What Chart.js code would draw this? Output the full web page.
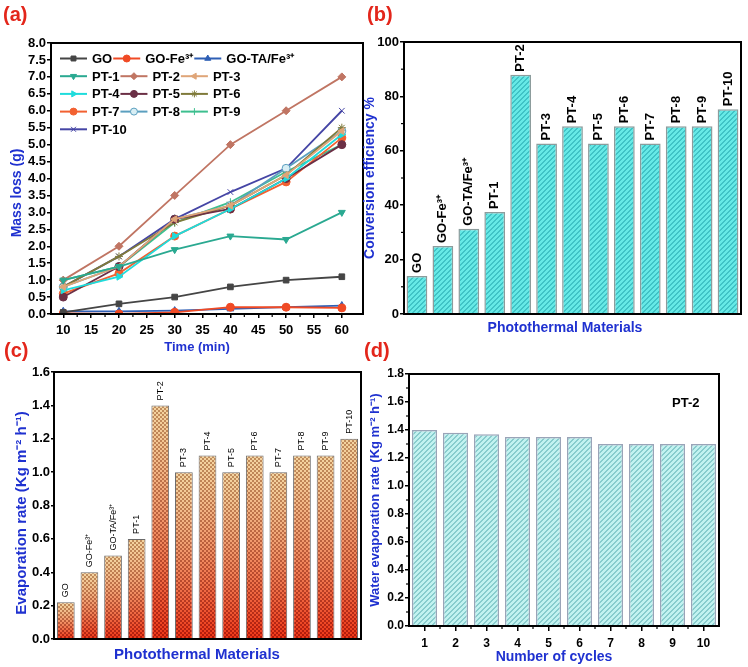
<!DOCTYPE html>
<html>
<head>
<meta charset="utf-8">
<script src="https://cdn.jsdelivr.net/npm/chart.js@4.4.1/dist/chart.umd.min.js"></script>
<style>
  body { margin: 0; background: #fff; width: 748px; height: 667px; position: relative; overflow: hidden; font-family: "Liberation Sans", Arial, sans-serif; }
  canvas { position: absolute; }
  .panel { position: absolute; color: #e3261b; font: bold 20px "Liberation Sans", Arial, sans-serif; line-height: 1; }
  .note { position: absolute; color: #000; font: bold 13px "Liberation Sans", Arial, sans-serif; line-height: 1; }
</style>
</head>
<body>
<canvas id="cA" width="374" height="360" style="left:0;top:0"></canvas>
<canvas id="cB" width="388" height="345" style="left:360px;top:0"></canvas>
<canvas id="cC" width="374" height="337" style="left:0;top:330px"></canvas>
<canvas id="cD" width="386" height="337" style="left:362px;top:330px"></canvas>
<div class="panel" style="left:3px;top:4px">(a)</div>
<div class="panel" style="left:367px;top:4px">(b)</div>
<div class="panel" style="left:4px;top:340px">(c)</div>
<div class="panel" style="left:364px;top:340px">(d)</div>
<div class="note" style="left:672px;top:396px">PT-2</div>
<script>
// ---- data ----
const times = [10, 20, 30, 40, 50, 60];
const timeTicks = [10, 15, 20, 25, 30, 35, 40, 45, 50, 55, 60];
const seriesNames = ['GO', 'GO-Fe³⁺', 'GO-TA/Fe³⁺', 'PT-1', 'PT-2', 'PT-3', 'PT-4', 'PT-5', 'PT-6', 'PT-7', 'PT-8', 'PT-9', 'PT-10'];
const lossGO     = [0.05, 0.30, 0.50, 0.80, 1.00, 1.10];
const lossGOFe   = [0.02, 0.00, 0.05, 0.20, 0.20, 0.18];
const lossGOTAFe = [0.08, 0.08, 0.10, 0.15, 0.20, 0.25];
const lossPT1  = [1.00, 1.40, 1.90, 2.30, 2.20, 3.00];
const lossPT2  = [1.00, 2.00, 3.50, 5.00, 6.00, 7.00];
const lossPT3  = [0.80, 1.40, 2.80, 3.20, 4.10, 5.40];
const lossPT4  = [0.70, 1.10, 2.30, 3.10, 4.00, 5.30];
const lossPT5  = [0.50, 1.40, 2.80, 3.10, 4.00, 5.00];
const lossPT6  = [0.80, 1.70, 2.70, 3.20, 4.10, 5.50];
const lossPT7  = [0.60, 1.20, 2.30, 3.10, 3.90, 5.20];
const lossPT8  = [0.80, 1.40, 2.80, 3.20, 4.30, 5.40];
const lossPT9  = [1.00, 1.40, 2.70, 3.30, 4.20, 5.00];
const lossPT10 = [0.80, 1.70, 2.80, 3.60, 4.30, 6.00];

const materials = ['GO', 'GO-Fe³⁺', 'GO-TA/Fe³⁺', 'PT-1', 'PT-2', 'PT-3', 'PT-4', 'PT-5', 'PT-6', 'PT-7', 'PT-8', 'PT-9', 'PT-10'];
const conversion = [14, 25, 31.3, 37.5, 88, 62.7, 69, 62.7, 69, 62.7, 69, 69, 75.3];
const evapRate = [0.22, 0.40, 0.50, 0.60, 1.40, 1.00, 1.10, 1.00, 1.10, 1.00, 1.10, 1.10, 1.20];
const cycles = ['1', '2', '3', '4', '5', '6', '7', '8', '9', '10'];
const cycleRate = [1.40, 1.38, 1.37, 1.35, 1.35, 1.35, 1.30, 1.30, 1.30, 1.30];

const lossSeries = [lossGO, lossGOFe, lossGOTAFe, lossPT1, lossPT2, lossPT3, lossPT4, lossPT5, lossPT6, lossPT7, lossPT8, lossPT9, lossPT10];
// marker / colour per series
const lossStyles = [
  { color: '#454545', point: 'rect', rot: 0 },
  { color: '#f04a25', point: 'circle', rot: 0 },
  { color: '#2e5fb5', point: 'triangle', rot: 0 },
  { color: '#2aa991', point: 'triangle', rot: 180 },
  { color: '#c07563', point: 'rectRot', rot: 0 },
  { color: '#dfa578', point: 'triangle', rot: 270 },
  { color: '#1fdcdc', point: 'triangle', rot: 90 },
  { color: '#6b2f45', point: 'circle', rot: 0 },
  { color: '#7f7a3a', point: 'star', rot: 0 },
  { color: '#f26131', point: 'circle', rot: 0 },
  { color: '#5b9fbf', point: 'circle', rot: 0, fill: '#d8eef4' },
  { color: '#3dbf8f', point: 'cross', rot: 0 },
  { color: '#4545a5', point: 'crossRot', rot: 0 }
];

const BLUE = '#1f31d0';
const FONT = '"Liberation Sans", Arial, sans-serif';
Chart.defaults.font.family = FONT;
Chart.defaults.color = '#000';

// ---- plugins ----
const frame = {
  id: 'frame',
  afterDraw(chart) {
    const a = chart.chartArea, ctx = chart.ctx;
    ctx.save();
    ctx.strokeStyle = '#000';
    ctx.lineWidth = 2;
    ctx.strokeRect(a.left, a.top, a.right - a.left, a.bottom - a.top);
    ctx.restore();
  }
};

const minorTicks = {
  id: 'minorTicks',
  afterDraw(chart, args, opts) {
    const ctx = chart.ctx;
    ctx.save();
    ctx.strokeStyle = '#000';
    ctx.lineWidth = 1.2;
    (opts.axes || []).forEach(id => {
      const s = chart.scales[id];
      for (let i = 0; i < s.ticks.length - 1; i++) {
        const p = (s.getPixelForTick(i) + s.getPixelForTick(i + 1)) / 2;
        ctx.beginPath();
        if (s.isHorizontal()) { ctx.moveTo(p, s.top); ctx.lineTo(p, s.top + 3); }
        else { ctx.moveTo(s.right, p); ctx.lineTo(s.right - 3, p); }
        ctx.stroke();
      }
    });
    ctx.restore();
  }
};

const axisTitles = {
  id: 'axisTitles',
  afterDraw(chart, args, opts) {
    const ctx = chart.ctx;
    ctx.save();
    ctx.fillStyle = BLUE;
    ctx.textAlign = 'center';
    ctx.textBaseline = 'middle';
    ctx.font = opts.xFont;
    ctx.fillText(opts.xText, opts.xPos[0], opts.xPos[1]);
    ctx.translate(opts.yPos[0], opts.yPos[1]);
    ctx.rotate(-Math.PI / 2);
    ctx.font = opts.yFont;
    ctx.fillText(opts.yText, 0, 0);
    ctx.restore();
  }
};

const barLabels = {
  id: 'barLabels',
  afterDatasetsDraw(chart, args, opts) {
    const ctx = chart.ctx;
    const meta = chart.getDatasetMeta(0);
    ctx.save();
    ctx.font = opts.font;
    ctx.fillStyle = '#000';
    ctx.textAlign = 'left';
    ctx.textBaseline = 'middle';
    meta.data.forEach((bar, i) => {
      ctx.save();
      ctx.translate(bar.x, bar.y - opts.gap);
      ctx.rotate(-Math.PI / 2);
      ctx.fillText(chart.data.labels[i], 0, 0);
      ctx.restore();
    });
    ctx.restore();
  }
};

const lineLegend = {
  id: 'lineLegend',
  afterDraw(chart, args, opts) {
    const ctx = chart.ctx;
    ctx.save();
    ctx.font = 'bold 13px ' + FONT;
    ctx.textBaseline = 'middle';
    let x = opts.x;
    chart.data.datasets.forEach((ds, i) => {
      const row = Math.floor(i / 3);
      if (i % 3 === 0) x = opts.x;
      const y = opts.y + row * opts.rowH;
      ctx.strokeStyle = ds.borderColor;
      ctx.lineWidth = 2;
      ctx.beginPath();
      ctx.moveTo(x, y);
      ctx.lineTo(x + 27, y);
      ctx.stroke();
      ctx.fillStyle = ds.pointBackgroundColor || ds.borderColor;
      ctx.lineWidth = 1;
      if (Chart.helpers && Chart.helpers.drawPoint) {
        Chart.helpers.drawPoint(ctx, { pointStyle: ds.pointStyle, rotation: ds.pointRotation, radius: 3.5, borderWidth: 1 }, x + 13.5, y);
      }
      ctx.fillStyle = '#000';
      ctx.fillText(ds.label, x + 32, y + 1);
      x += 32 + ctx.measureText(ds.label).width + 1;
    });
    ctx.restore();
  }
};

function axisGrid(len) {
  return { drawOnChartArea: false, drawTicks: true, tickLength: len, color: '#000', lineWidth: 1.5 };
}

function stripePattern(ctx, base, stripe) {
  const c = document.createElement('canvas');
  c.width = 5; c.height = 5;
  const g = c.getContext('2d');
  g.fillStyle = base;
  g.fillRect(0, 0, 5, 5);
  g.fillStyle = stripe;
  for (let i = 0; i < 5; i++) {
    g.fillRect(i, 4 - i, 1, 1);
    g.fillRect((i + 1) % 5, 4 - i, 1, 1);
  }
  return ctx.createPattern(c, 'repeat');
}

function mix(a, b, t) {
  return 'rgb(' + a.map((v, k) => Math.round(v + (b[k] - v) * t)).join(',') + ')';
}

function checkerPattern(ctx, top, bottom, height) {
  const c = document.createElement('canvas');
  c.width = 4; c.height = height;
  const g = c.getContext('2d');
  const tanL = [244, 212, 160], tanD = [192, 140, 92];
  const redL = [238, 54, 22], redD = [178, 24, 10];
  for (let y = 0; y < height; y++) {
    let t = Math.min(1, Math.max(0, (y - top) / (bottom - top)));
    t = Math.pow(t, 1.3);
    g.fillStyle = mix(tanL, redL, t);
    g.fillRect(0, y, 4, 1);
    g.fillStyle = mix(tanD, redD, t);
    g.fillRect(Math.floor(y / 2) % 2 ? 0 : 2, y, 2, 1);
  }
  return ctx.createPattern(c, 'repeat');
}

// ---- (a) mass loss ----
new Chart(document.getElementById('cA'), {
  type: 'line',
  data: {
    datasets: lossSeries.map((s, i) => ({
      label: seriesNames[i],
      data: times.map((t, j) => ({ x: t, y: s[j] })),
      borderColor: lossStyles[i].color,
      backgroundColor: lossStyles[i].color,
      pointBackgroundColor: lossStyles[i].fill || lossStyles[i].color,
      pointBorderColor: lossStyles[i].color,
      pointStyle: lossStyles[i].point,
      pointRotation: lossStyles[i].rot,
      pointRadius: 4,
      pointBorderWidth: 1,
      borderWidth: 1.8,
      fill: false,
      tension: 0
    }))
  },
  options: {
    responsive: false,
    animation: false,
    events: [],
    layout: { padding: { top: 43, right: 11, left: 0, bottom: 0 } },
    plugins: {
      legend: { display: false },
      tooltip: { enabled: false },
      minorTicks: { axes: ['x'] },
      lineLegend: { x: 60, y: 58.5, rowH: 17.7 },
      axisTitles: { xText: 'Time (min)', xPos: [197, 347], xFont: 'bold 13px ' + FONT,
                    yText: 'Mass loss (g)', yPos: [17, 193], yFont: 'bold 14px ' + FONT }
    },
    scales: {
      x: {
        type: 'linear', min: 7.8, max: 63.8,
        afterBuildTicks: s => { s.ticks = timeTicks.map(v => ({ value: v })); },
        afterFit: s => { s.height = 46; },
        ticks: { font: { size: 13, weight: 'bold' }, color: '#000', padding: 5, autoSkip: false, maxRotation: 0 },
        grid: axisGrid(4),
        border: { display: true, color: '#000', width: 2 }
      },
      y: {
        min: 0, max: 8,
        afterFit: s => { s.width = 51; },
        ticks: { stepSize: 0.5, callback: v => v.toFixed(1), font: { size: 13, weight: 'bold' }, color: '#000', padding: 1, autoSkip: false },
        grid: axisGrid(4),
        border: { display: true, color: '#000', width: 2 }
      }
    }
  },
  plugins: [minorTicks, frame, lineLegend, axisTitles]
});

// ---- (b) conversion efficiency ----
const ctxB = document.getElementById('cB').getContext('2d');
new Chart(ctxB, {
  type: 'bar',
  data: {
    labels: materials,
    datasets: [{
      data: conversion,
      backgroundColor: stripePattern(ctxB, '#66e9e6', '#40c3c6'),
      borderColor: '#8c9c9c',
      borderWidth: 1.5,
      barPercentage: 0.8,
      categoryPercentage: 1
    }]
  },
  options: {
    responsive: false,
    animation: false,
    events: [],
    layout: { padding: { top: 42, right: 7, left: 0, bottom: 0 } },
    plugins: {
      legend: { display: false },
      tooltip: { enabled: false },
      minorTicks: { axes: ['y'] },
      barLabels: { font: 'bold 13px ' + FONT, gap: 3 },
      axisTitles: { xText: 'Photothermal Materials', xPos: [205, 328], xFont: 'bold 14px ' + FONT,
                    yText: 'Conversion efficiency %', yPos: [10, 178], yFont: 'bold 14px ' + FONT }
    },
    scales: {
      x: {
        afterFit: s => { s.height = 31; },
        ticks: { display: false },
        grid: { display: false },
        border: { display: true, color: '#000', width: 2 }
      },
      y: {
        min: 0, max: 100,
        afterFit: s => { s.width = 44; },
        ticks: { stepSize: 20, font: { size: 13, weight: 'bold' }, color: '#000', padding: 1 },
        grid: axisGrid(4),
        border: { display: true, color: '#000', width: 2 }
      }
    }
  },
  plugins: [barLabels, minorTicks, frame, axisTitles]
});

// ---- (c) evaporation rate ----
const ctxC = document.getElementById('cC').getContext('2d');
const checkerCache = {};
new Chart(ctxC, {
  type: 'bar',
  data: {
    labels: materials,
    datasets: [{
      data: evapRate,
      backgroundColor: c => {
        const chart = c.chart, area = chart.chartArea;
        if (!area || c.dataIndex === undefined) return '#e07040';
        if (!checkerCache[c.dataIndex]) {
          const top = chart.scales.y.getPixelForValue(evapRate[c.dataIndex]);
          checkerCache[c.dataIndex] = checkerPattern(ctxC, top, area.bottom, chart.height);
        }
        return checkerCache[c.dataIndex];
      },
      borderColor: '#6a6a6a',
      borderWidth: 1,
      barPercentage: 0.75,
      categoryPercentage: 1
    }]
  },
  options: {
    responsive: false,
    animation: false,
    events: [],
    layout: { padding: { top: 42, right: 13, left: 0, bottom: 0 } },
    plugins: {
      legend: { display: false },
      tooltip: { enabled: false },
      barLabels: { font: '9px ' + FONT, gap: 5 },
      axisTitles: { xText: 'Photothermal Materials', xPos: [197, 325], xFont: 'bold 15px ' + FONT,
                    yText: 'Evaporation rate (Kg m⁻² h⁻¹)', yPos: [22, 183], yFont: 'bold 15px ' + FONT }
    },
    scales: {
      x: {
        afterFit: s => { s.height = 28; },
        ticks: { display: false },
        grid: { display: false },
        border: { display: true, color: '#000', width: 2 }
      },
      y: {
        min: 0, max: 1.6,
        afterFit: s => { s.width = 54; },
        ticks: { stepSize: 0.2, callback: v => v.toFixed(1), font: { size: 13, weight: 'bold' }, color: '#000', padding: 1, autoSkip: false },
        grid: axisGrid(3),
        border: { display: true, color: '#000', width: 2 }
      }
    }
  },
  plugins: [barLabels, frame, axisTitles]
});

// ---- (d) cycling ----
const ctxD = document.getElementById('cD').getContext('2d');
new Chart(ctxD, {
  type: 'bar',
  data: {
    labels: cycles,
    datasets: [{
      data: cycleRate,
      backgroundColor: stripePattern(ctxD, '#c2f2f0', '#88cccd'),
      borderColor: '#9aa4b8',
      borderWidth: 1.5,
      barPercentage: 0.81,
      categoryPercentage: 1
    }]
  },
  options: {
    responsive: false,
    animation: false,
    events: [],
    layout: { padding: { top: 44, right: 29, left: 0, bottom: 0 } },
    plugins: {
      legend: { display: false },
      tooltip: { enabled: false },
      minorTicks: { axes: ['x', 'y'] },
      axisTitles: { xText: 'Number of cycles', xPos: [192, 327], xFont: 'bold 14px ' + FONT,
                    yText: 'Water evaporation rate (Kg m⁻² h⁻¹)', yPos: [13, 170], yFont: 'bold 13px ' + FONT }
    },
    scales: {
      x: {
        afterFit: s => { s.height = 41; },
        ticks: { font: { size: 12, weight: 'bold' }, color: '#000', padding: 5, maxRotation: 0 },
        grid: Object.assign(axisGrid(5), { offset: false }),
        border: { display: true, color: '#000', width: 2 }
      },
      y: {
        min: 0, max: 1.8,
        afterFit: s => { s.width = 47; },
        ticks: { stepSize: 0.2, callback: v => v.toFixed(1), font: { size: 12, weight: 'bold' }, color: '#000', padding: 1, autoSkip: false },
        grid: axisGrid(4),
        border: { display: true, color: '#000', width: 2 }
      }
    }
  },
  plugins: [minorTicks, frame, axisTitles]
});
</script>
</body>
</html>
